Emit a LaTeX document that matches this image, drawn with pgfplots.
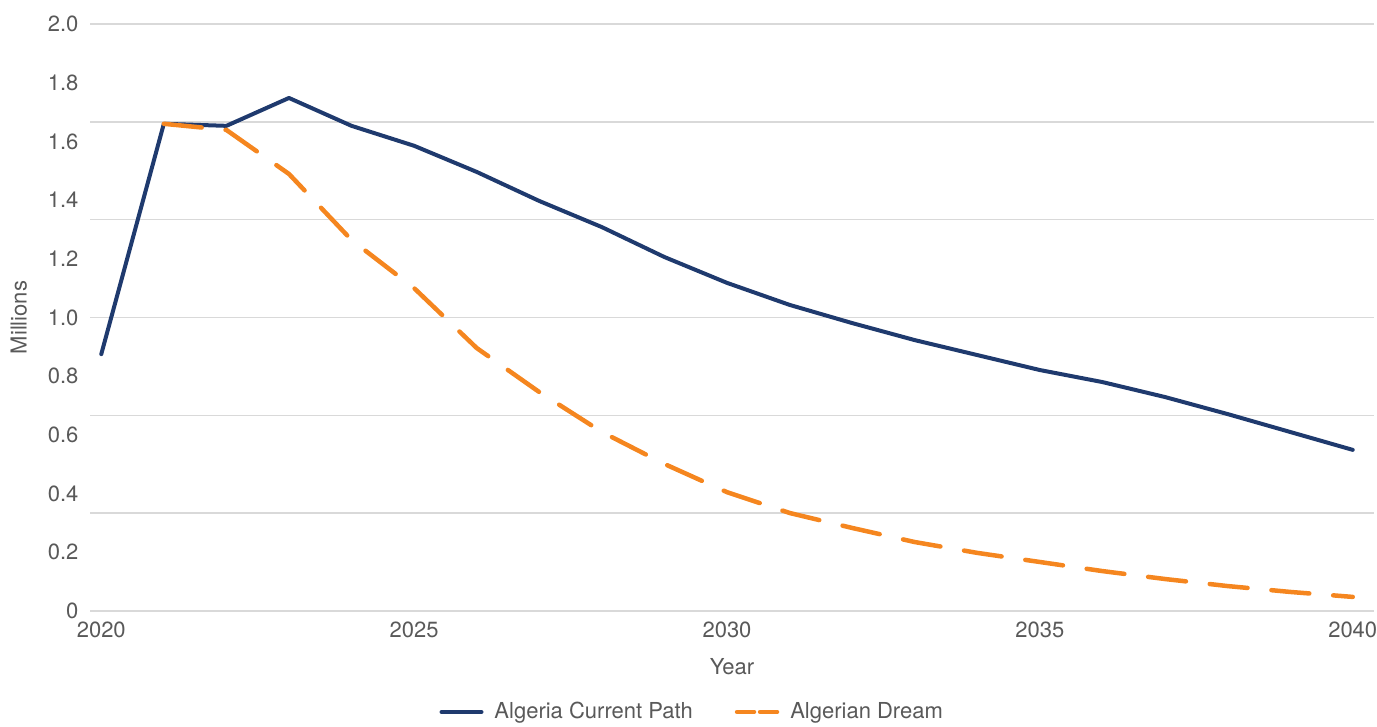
\documentclass[border=0pt]{standalone}
\usepackage{pgfplots}
\pgfplotsset{compat=1.18}
\usepackage{fontspec}
\setmainfont{TeX Gyre Heros}
\definecolor{navy}{HTML}{1F3A6E}
\definecolor{orng}{HTML}{F5861F}
\definecolor{gridc}{HTML}{D9D9D9}
\definecolor{txt}{HTML}{595959}
\pgfplotstableread{
year cur dream
2020 0.875 nan
2021 1.660 1.660
2022 1.653 1.639
2023 1.748 1.489
2024 1.653 1.264
2025 1.585 1.100
2026 1.496 0.896
2027 1.397 0.746
2028 1.308 0.610
2029 1.206 0.501
2030 1.118 0.405
2031 1.043 0.334
2032 0.981 0.283
2033 0.923 0.235
2034 0.872 0.198
2035 0.821 0.167
2036 0.780 0.136
2037 0.729 0.109
2038 0.671 0.085
2039 0.610 0.065
2040 0.549 0.048
}\data
\begin{document}
\fontsize{22bp}{26bp}\selectfont
\begin{tikzpicture}
\begin{axis}[
  scale only axis, width=1284bp, height=587bp,
  xmin=2019.82, xmax=2040.34, ymin=0, ymax=2,
  axis line style={draw=none},
  tick style={draw=none},
  xtick={2020,2025,2030,2035,2040},
  xticklabels={2020,2025,2030,2035,2040},
  ytick={0,0.2,0.4,0.6,0.8,1.0,1.2,1.4,1.6,1.8,2.0},
  yticklabels={0,0.2,0.4,0.6,0.8,1.0,1.2,1.4,1.6,1.8,2.0},
  extra y ticks={0,0.33333,0.66667,1,1.33333,1.66667,2},
  extra y tick labels={},
  extra y tick style={grid=major, major grid style={draw=gridc, line width=1.5bp}},
  /pgf/number format/assume math mode=true,
  ticklabel style={font=\fontsize{22bp}{26bp}\selectfont, text=txt},
  xticklabel style={yshift=-3bp},
  yticklabel style={xshift=-4bp},
  xlabel={Year}, ylabel={Millions},
  label style={font=\fontsize{22bp}{26bp}\selectfont, text=txt},
  xlabel style={yshift=-6bp},
  ylabel style={yshift=6bp},
  legend columns=2,
  legend style={at={(0.469,-0.172)}, anchor=center, draw=none, fill=none,
    font=\fontsize{22bp}{26bp}\selectfont, text=txt,
    /tikz/every odd column/.append style={column sep=9bp},
    /tikz/every even column/.append style={column sep=40bp}},
  legend cell align=left,
]
\addplot[navy, line width=4bp, line join=round, line cap=round,
  legend image code/.code={\draw[navy, line width=4bp] (0bp,0bp) -- (40bp,0bp);}]
  table[x=year, y=cur] {\data};
\addlegendentry{Algeria Current Path}
\addplot[orng, line width=4.5bp, line join=round, line cap=round, dash pattern=on 38bp off 24bp,
  unbounded coords=jump,
  legend image code/.code={\draw[orng, line width=4.5bp] (0bp,0bp) -- (17bp,0bp) (23bp,0bp) -- (40bp,0bp);}]
  table[x=year, y=dream] {\data};
\addlegendentry{Algerian Dream}
\end{axis}
\pgfresetboundingbox
\path ([shift={(-90bp,-115bp)}]current axis.south west) rectangle ([shift={(3bp,24bp)}]current axis.north east);
\end{tikzpicture}
\end{document}
